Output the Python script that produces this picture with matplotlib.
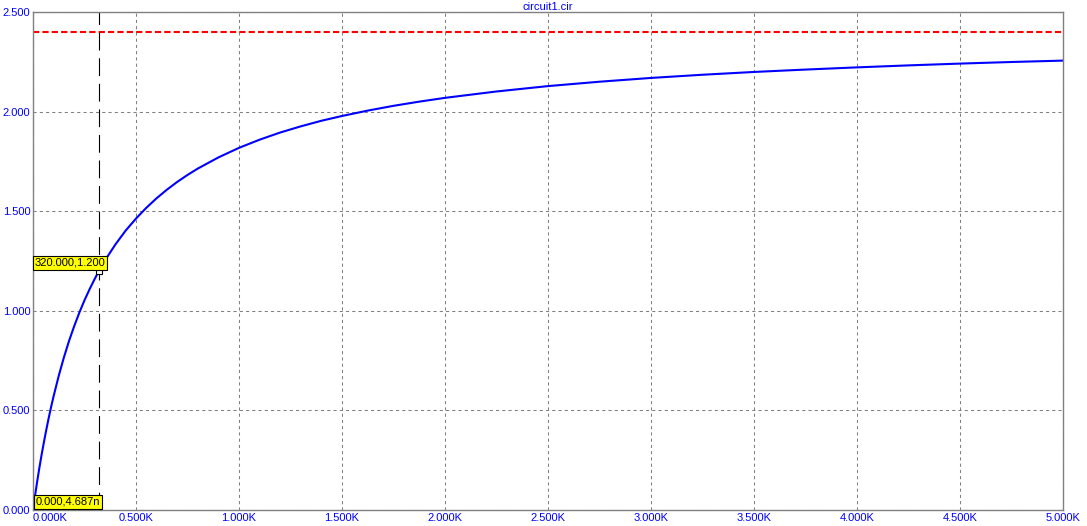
import matplotlib.pyplot as plt
from matplotlib.ticker import FixedLocator

# values
x_vals = [0, 5, 10, 20, 30, 40, 50, 60, 75, 90, 100, 125, 150, 175, 200, 225,
          250, 275, 300, 320, 350, 400, 450, 500, 550, 600, 650, 700, 750, 800,
          900, 1000, 1100, 1200, 1300, 1400, 1500, 1625, 1750, 1875, 2000, 2250,
          2500, 2750, 3000, 3250, 3500, 3750, 4000, 4250, 4500, 4750, 5000]
y_vals = [0.000, 0.037, 0.073, 0.141, 0.206, 0.267, 0.324, 0.379, 0.456, 0.527,
          0.571, 0.674, 0.766, 0.849, 0.923, 0.991, 1.053, 1.109, 1.161, 1.200,
          1.254, 1.333, 1.403, 1.463, 1.517, 1.565, 1.608, 1.647, 1.682, 1.714,
          1.770, 1.818, 1.859, 1.895, 1.926, 1.954, 1.978, 2.005, 2.029, 2.050,
          2.069, 2.101, 2.128, 2.150, 2.169, 2.185, 2.199, 2.211, 2.222, 2.232,
          2.241, 2.249, 2.256]
limit_level = 2.4
cursor_x, cursor_y = 320, 1.2
x_ticks = [0, 500, 1000, 1500, 2000, 2500, 3000, 3500, 4000, 4500, 5000]
x_tick_labels = ['0.000K', '0.500K', '1.000K', '1.500K', '2.000K', '2.500K',
                 '3.000K', '3.500K', '4.000K', '4.500K', '5.000K']
y_ticks = [0.0, 0.5, 1.0, 1.5, 2.0, 2.5]
y_tick_labels = ['0.000', '0.500', '1.000', '1.500', '2.000', '2.500']

plt.rcParams['font.family'] = ['Liberation Sans', 'DejaVu Sans']

fig = plt.figure(figsize=(10.87, 5.26), dpi=100)
ax = fig.add_axes([33 / 1087, 16 / 526, 1030 / 1087, 498 / 526])

ax.set_xlim(0, 5000)
ax.set_ylim(0, 2.5)

# grid
ax.xaxis.set_major_locator(FixedLocator(x_ticks))
ax.yaxis.set_major_locator(FixedLocator(y_ticks))
ax.grid(True, color='#808080', linewidth=0.75, linestyle=(0, (3, 3)))
ax.set_axisbelow(True)

for s in ax.spines.values():
    s.set_color('#808080')
    s.set_linewidth(1.0)

# curves
ax.axhline(limit_level, color='#FF0000', linewidth=1.5, dashes=(3, 1.5))
ax.plot(x_vals, y_vals, color='#0000FF', linewidth=1.5, solid_joinstyle='round')
ax.axvline(cursor_x, color='black', linewidth=0.8, dashes=(16, 7))

# tick labels
ax.set_xticklabels(x_tick_labels)
ax.set_yticklabels(y_tick_labels)
ax.tick_params(length=0, labelsize=8, labelcolor='#0000FF', pad=2)
ax.get_xticklabels()[0].set_horizontalalignment('left')

ax.set_title('circuit1.cir', fontsize=8, color='#0000FF', pad=1)

# cursor marker and labels
ax.plot([cursor_x], [cursor_y], marker='s', markersize=5, markerfacecolor='white',
        markeredgecolor='black', markeredgewidth=0.8, linestyle='none', zorder=5)
box = dict(boxstyle='square,pad=0.15', facecolor='#FFFF00', edgecolor='black', linewidth=0.8)
ax.annotate('320.000,1.200', xy=(cursor_x, cursor_y), xytext=(6, 3),
            textcoords='offset pixels', ha='right', va='bottom', fontsize=8,
            bbox=box, zorder=6)
ax.annotate('0.000,4.687n', xy=(0, 0), xytext=(3, 3),
            textcoords='offset pixels', ha='left', va='bottom', fontsize=8,
            bbox=box, zorder=6)

fig.savefig('out.png', dpi=100)
